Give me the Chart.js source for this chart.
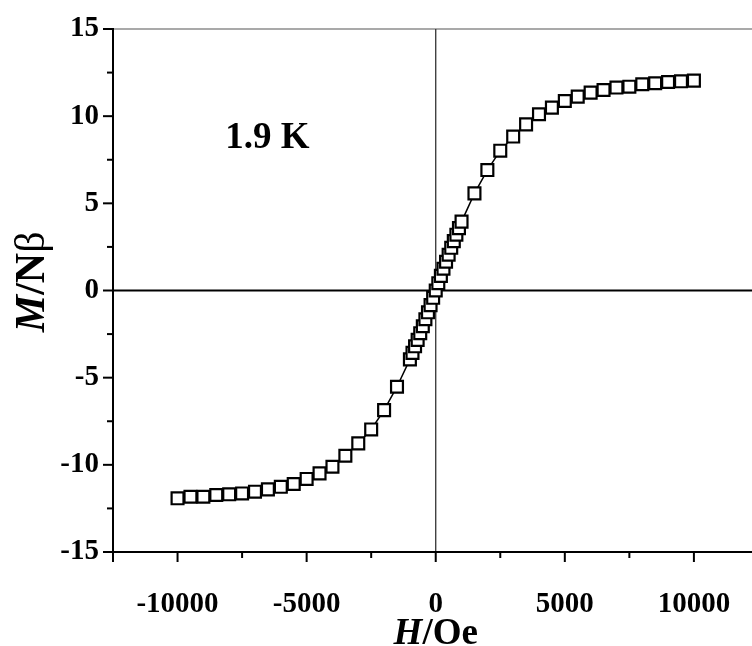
<!DOCTYPE html>
<html>
<head>
<meta charset="utf-8">
<script src="https://cdn.jsdelivr.net/npm/chart.js@4.4.1/dist/chart.umd.min.js"></script>
<style>
  html, body { margin: 0; padding: 0; background: #fff; overflow: hidden; }
  #wrap { width: 752px; height: 646px; }
</style>
</head>
<body>
<div id="wrap"><canvas id="chartLoop" width="752" height="646"></canvas></div>
<script>
// Magnetizzazione a 1.9 K: M/Nβ in funzione del campo H (Oe)
// ------------------------------
const fieldH = [
  -10000, -9500, -9000, -8500, -8000, -7500, -7000, -6500, -6000, -5500,
  -5000, -4500, -4000, -3500, -3000, -2500, -2000, -1500, -1000,
  -900, -800, -700, -600, -500, -400, -300, -200, -100, 0,
  100, 200, 300, 400, 500, 600, 700, 800, 900,
  1000, 1500, 2000, 2500, 3000, 3500, 4000, 4500, 5000, 5500,
  6000, 6500, 7000, 7500, 8000, 8500, 9000, 9500, 10000
];
const moment = [
  -11.92, -11.83, -11.83, -11.73, -11.69, -11.64, -11.54, -11.41, -11.26, -11.10,
  -10.81, -10.49, -10.11, -9.48, -8.77, -7.97, -6.86, -5.52, -3.95,
  -3.58, -3.20, -2.83, -2.45, -2.05, -1.65, -1.25, -0.84, -0.42, 0.0,
  0.42, 0.84, 1.25, 1.65, 2.05, 2.45, 2.83, 3.20, 3.58,
  3.95, 5.57, 6.91, 8.02, 8.83, 9.53, 10.11, 10.49, 10.87, 11.12,
  11.35, 11.50, 11.64, 11.69, 11.83, 11.89, 11.96, 12.00, 12.04
];
const xTickValues = [-12500, -10000, -7500, -5000, -2500, 0, 2500, 5000, 7500, 10000];
const xLabelValues = [-10000, -5000, 0, 5000, 10000];
const yTickValues = [-15, -12.5, -10, -7.5, -5, -2.5, 0, 2.5, 5, 7.5, 10, 12.5, 15];
const yLabelValues = [-15, -10, -5, 0, 5, 10, 15];
const tempLabel = '1.9 K';

const SERIF = '"Liberation Serif", "DejaVu Serif", serif';

function line(ctx, x1, y1, x2, y2) {
  ctx.beginPath();
  ctx.moveTo(x1, y1);
  ctx.lineTo(x2, y2);
  ctx.stroke();
}

// disegna testo a pezzi con font diversi, centrato in (0,0)
function drawParts(ctx, parts) {
  let total = 0;
  parts.forEach(p => { ctx.font = p.font; p.w = ctx.measureText(p.text).width; total += p.w; });
  let cx = -total / 2;
  parts.forEach(p => { ctx.font = p.font; ctx.fillText(p.text, cx, 0); cx += p.w; });
}

// ------------------------------
// Cornice, assi, tacche e titoli
const framePlugin = {
  id: 'frame',
  beforeDatasetsDraw(chart) {
    const { ctx, chartArea: a, scales: { x, y } } = chart;
    const x0 = x.getPixelForValue(0);
    const y0 = y.getPixelForValue(0);
    ctx.save();
    ctx.lineCap = 'butt';
    ctx.strokeStyle = '#8c8c8c';
    ctx.lineWidth = 1.5;
    line(ctx, a.left, a.top, a.right, a.top);

    ctx.strokeStyle = '#000';
    ctx.lineWidth = 2;
    line(ctx, a.left, y0, a.right, y0);
    ctx.strokeStyle = '#333';
    ctx.lineWidth = 1.3;
    line(ctx, x0, a.top, x0, a.bottom);

    ctx.strokeStyle = '#000';
    ctx.lineWidth = 2;
    line(ctx, a.left, a.top - 1, a.left, a.bottom);
    line(ctx, a.left - 1, a.bottom, a.right, a.bottom);

    xTickValues.forEach(v => {
      const px = x.getPixelForValue(v);
      const len = (xLabelValues.includes(v) || v === x.min) ? 10 : 6;
      line(ctx, px, a.bottom, px, a.bottom + len);
    });
    yTickValues.forEach(v => {
      const py = y.getPixelForValue(v);
      const len = yLabelValues.includes(v) ? 10 : 6;
      line(ctx, a.left - len, py, a.left, py);
    });
    ctx.restore();
  },
  afterDraw(chart) {
    const { ctx, scales: { x, y } } = chart;
    ctx.save();
    ctx.fillStyle = '#000';
    ctx.textBaseline = 'alphabetic';

    // etichetta temperatura
    ctx.textAlign = 'left';
    ctx.font = 'bold 37px ' + SERIF;
    ctx.fillText(tempLabel, x.getPixelForValue(-8150), y.getPixelForValue(8.18));

    // titolo asse x
    ctx.save();
    ctx.translate(x.getPixelForValue(0), 644);
    ctx.textAlign = 'left';
    drawParts(ctx, [
      { text: 'H', font: 'italic bold 37px ' + SERIF },
      { text: '/Oe', font: 'bold 37px ' + SERIF }
    ]);
    ctx.restore();

    // titolo asse y
    ctx.save();
    ctx.translate(44, y.getPixelForValue(0.5));
    ctx.rotate(-Math.PI / 2);
    ctx.textAlign = 'left';
    drawParts(ctx, [
      { text: 'M', font: 'italic bold 42px ' + SERIF },
      { text: '/N', font: 'bold 42px ' + SERIF },
      { text: 'β', font: '42px ' + SERIF }
    ]);
    ctx.restore();
    ctx.restore();
  }
};

// ------------------------------
// Grafico: Linea con marcatori quadrati vuoti
const ctxLoop = document.getElementById('chartLoop').getContext('2d');
const chartLoop = new Chart(ctxLoop, {
  type: 'line',
  data: {
    datasets: [{
      label: 'M/Nβ',
      data: fieldH.map((h, i) => ({ x: h, y: moment[i] })),
      borderColor: '#000',
      borderWidth: 1.5,
      tension: 0,
      pointStyle: 'rect',
      pointRadius: 8.4,
      pointBorderWidth: 2.2,
      pointBackgroundColor: '#fff',
      pointBorderColor: '#000'
    }]
  },
  options: {
    responsive: false,
    animation: false,
    events: [],
    layout: { autoPadding: false, padding: { top: 29, right: 0, left: 0, bottom: 0 } },
    scales: {
      x: {
        type: 'linear',
        min: -12500,
        max: 12250,
        grid: { display: false, drawTicks: false },
        border: { display: false },
        afterBuildTicks: scale => { scale.ticks = xTickValues.map(v => ({ value: v })); },
        afterFit: scale => {
          scale.height = 94;
          scale.paddingLeft = 0;
          scale.paddingRight = 0;
        },
        ticks: {
          autoSkip: false,
          maxRotation: 0,
          padding: 35,
          color: '#000',
          font: { family: SERIF, size: 29, weight: 'bold' },
          callback: v => xLabelValues.includes(v) ? String(v) : ''
        }
      },
      y: {
        min: -15,
        max: 15,
        grid: { display: false, drawTicks: false },
        border: { display: false },
        afterBuildTicks: scale => { scale.ticks = yTickValues.map(v => ({ value: v })); },
        afterFit: scale => {
          scale.width = 113;
          scale.paddingTop = 0;
          scale.paddingBottom = 0;
        },
        ticks: {
          autoSkip: false,
          padding: 14,
          color: '#000',
          font: { family: SERIF, size: 29, weight: 'bold' },
          callback: v => yLabelValues.includes(v) ? String(v) : ''
        }
      }
    },
    plugins: {
      legend: { display: false },
      tooltip: { enabled: false }
    }
  },
  plugins: [framePlugin]
});
</script>
</body>
</html>
